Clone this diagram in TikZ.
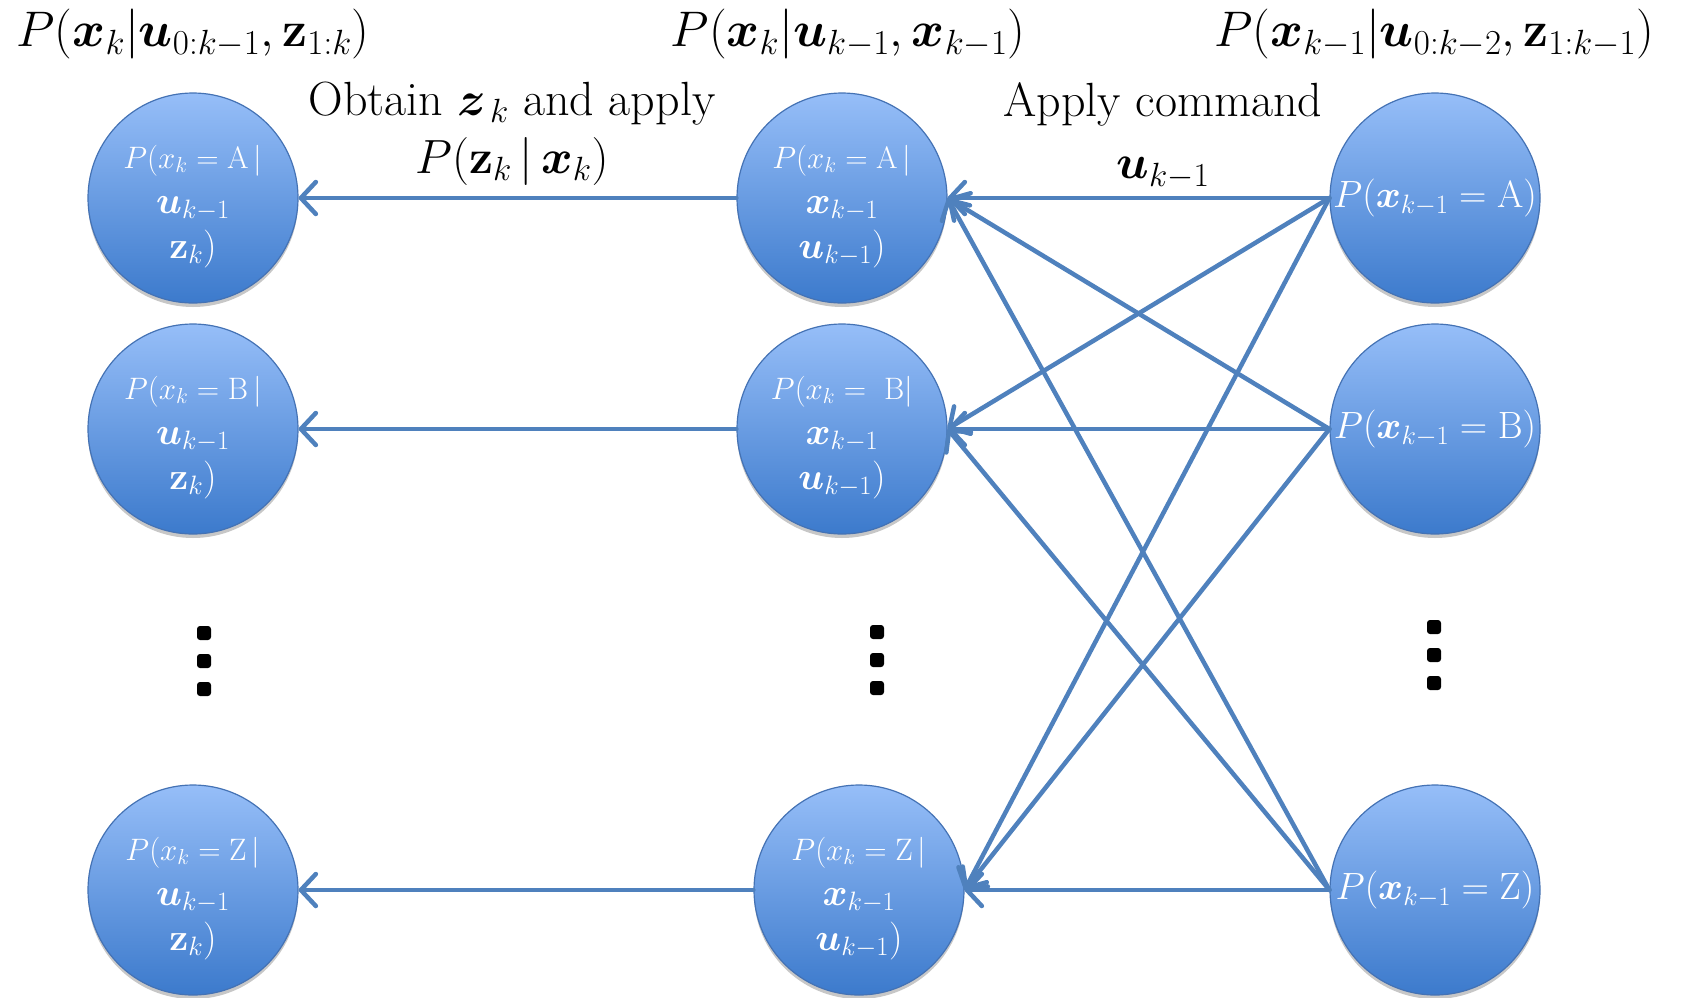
\RequirePackage{fix-cm}
\documentclass[tikz,border=0pt]{standalone}
\usepackage{amsmath,bm}
\usetikzlibrary{arrows.meta,shadows}

\definecolor{arrowblue}{RGB}{79,129,189}
\definecolor{circtop}{RGB}{150,190,248}
\definecolor{circbot}{RGB}{60,122,204}
\definecolor{circedge}{RGB}{68,114,180}

% three-line node text: small first line, shifted slightly downward
\newcommand{\threelines}[3]{\makebox[100pt]{\begin{tabular}{@{}c@{}}\rule{0pt}{44pt}{\fontsize{31}{45}\selectfont #1}\\#2\\#3\end{tabular}}}
\newcommand{\oneline}[1]{\makebox[100pt]{#1}}

\begin{document}
\begin{tikzpicture}[x=1pt,y=-1pt,
  state/.style={circle, minimum size=210pt, inner sep=0pt,
    top color=circtop, bottom color=circbot, draw=circedge, line width=1.2pt,
    text=white, font=\fontsize{38}{45}\selectfont,
    drop shadow={shadow xshift=0pt, shadow yshift=-4pt, opacity=0.22, fill=black}},
  arr/.style={draw=arrowblue, line width=4.5pt, line cap=round,
    -{Straight Barb[length=15pt,width=32pt,line cap=round,line join=round]}},
  head/.style={font=\fontsize{50}{58}\selectfont, inner sep=0pt},
  lab/.style={font=\fontsize{48}{58}\selectfont, align=center, inner sep=0pt},
  vdot/.style={fill=black, rounded corners=3pt, minimum size=14pt, inner sep=0pt}
]
\useasboundingbox (0,0) rectangle (1681,997);

% left column
\node[state] (l1) at (193,198) {\threelines{$P(x_k=\mathrm{A}\,|$}{$\bm{u}_{k-1}$}{$\mathbf{z}_k)$}};
\node[state] (l2) at (193,429) {\threelines{$P(x_k=\mathrm{B}\,|$}{$\bm{u}_{k-1}$}{$\mathbf{z}_k)$}};
\node[state] (l3) at (193,890) {\threelines{$P(x_k=\mathrm{Z}\,|$}{$\bm{u}_{k-1}$}{$\mathbf{z}_k)$}};

% middle column
\node[state] (m1) at (842,198) {\threelines{$P(x_k=\mathrm{A}\,|$}{$\bm{x}_{k-1}$}{$\bm{u}_{k-1})$}};
\node[state] (m2) at (842,429) {\threelines{$P(x_k=\ \mathrm{B}|$}{$\bm{x}_{k-1}$}{$\bm{u}_{k-1})$}};
\node[state] (m3) at (859,890) {\threelines{$P(x_k=\mathrm{Z}\,|$}{$\bm{x}_{k-1}$}{$\bm{u}_{k-1})$}};

% right column
\node[state] (r1) at (1435,198) {\oneline{$P(\bm{x}_{k-1}=\mathrm{A})$}};
\node[state] (r2) at (1435,429) {\oneline{$P(\bm{x}_{k-1}=\mathrm{B})$}};
\node[state] (r3) at (1435,890) {\oneline{$P(\bm{x}_{k-1}=\mathrm{Z})$}};

% vertical dots
\node[vdot] (ld1) at (204,633) {};
\node[vdot] (ld2) at (204,661) {};
\node[vdot] (ld3) at (204,689) {};
\node[vdot] (md1) at (877,632) {};
\node[vdot] (md2) at (877,660) {};
\node[vdot] (md3) at (877,688) {};
\node[vdot] (rd1) at (1434,627) {};
\node[vdot] (rd2) at (1434,655) {};
\node[vdot] (rd3) at (1434,683) {};

% headers
\node[head] (h1) at (193,34) {$P(\bm{x}_k|\bm{u}_{0:k-1},\mathbf{z}_{1:k})$};
\node[head] (h2) at (848,34) {$P(\bm{x}_k|\bm{u}_{k-1},\bm{x}_{k-1})$};
\node[head] (h3) at (1434,34) {$P(\bm{x}_{k-1}|\bm{u}_{0:k-2},\mathbf{z}_{1:k-1})$};

% labels
\node[lab] (t1) at (512,134) {Obtain $\bm{z}_{\,k}$ and apply\\$P(\mathbf{z}_k\,|\,\bm{x}_k)$};
\node[lab] (t2) at (1163,136) {Apply command\\[4pt]$\bm{u}_{k-1}$};

% connectors middle -> left
\draw[arr] (m1.west) -- (l1.east);
\draw[arr] (m2.west) -- (l2.east);
\draw[arr] (m3.west) -- (l3.east);

% connectors right -> middle
\foreach \r in {r1,r2,r3}{
  \foreach \m in {m1,m2,m3}{
    \draw[arr] (\r.west) -- (\m.east);
  }
}
\end{tikzpicture}
\end{document}
